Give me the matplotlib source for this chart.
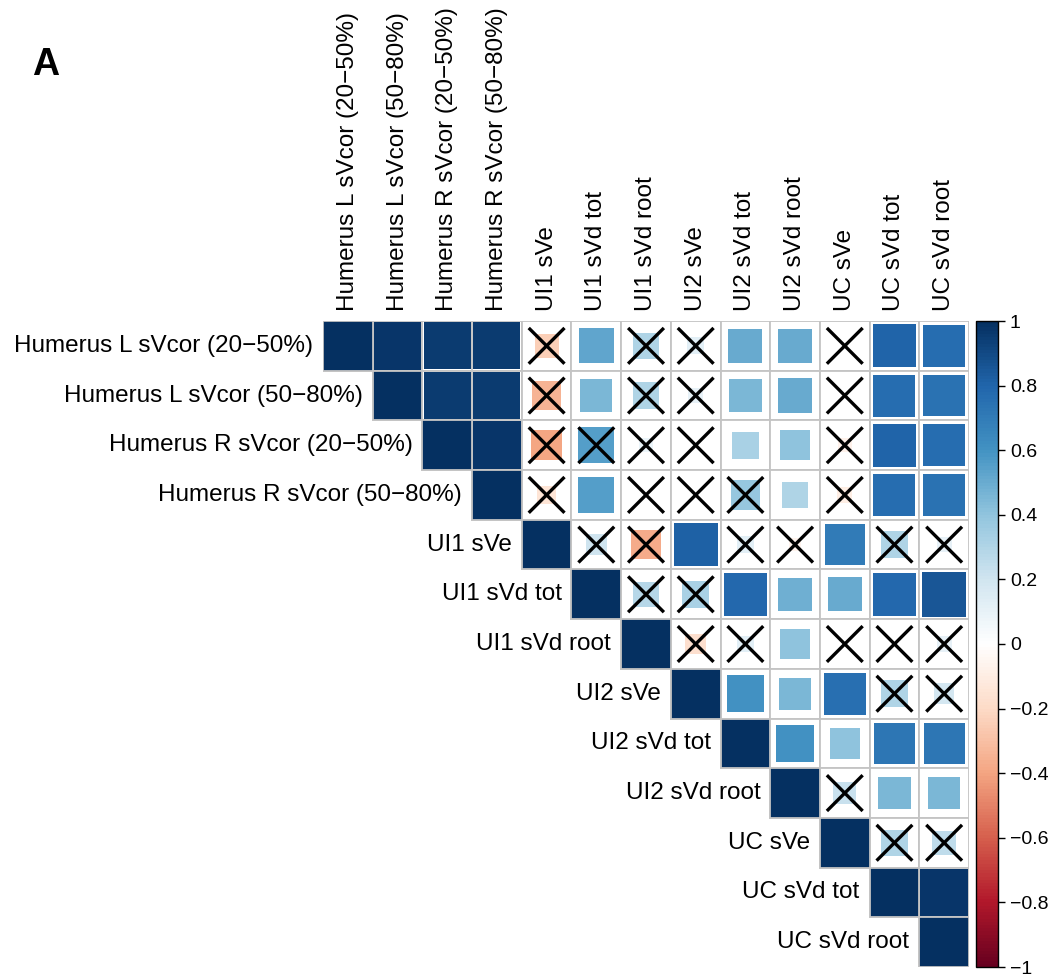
import matplotlib
matplotlib.use("Agg")
import matplotlib.pyplot as plt
import numpy as np
from matplotlib.colors import LinearSegmentedColormap, Normalize
from matplotlib.patches import Rectangle
import matplotlib.cm as cm

plt.rcParams['font.family'] = ['Liberation Sans', 'DejaVu Sans']

labels = ["Humerus L sVcor (20\u221250%)", "Humerus L sVcor (50\u221280%)",
          "Humerus R sVcor (20\u221250%)", "Humerus R sVcor (50\u221280%)",
          "UI1 sVe", "UI1 sVd tot", "UI1 sVd root",
          "UI2 sVe", "UI2 sVd tot", "UI2 sVd root",
          "UC sVe", "UC sVd tot", "UC sVd root"]

# upper triangle, row by row (starting at the diagonal)
r0 = [1.00, 0.97, 0.95, 0.95, -0.25, 0.52, 0.30, 0.12, 0.50, 0.50, 0.02, 0.80, 0.76]
r1 = [1.00, 0.95, 0.95, -0.35, 0.45, 0.30, 0.10, 0.45, 0.50, 0.00, 0.76, 0.74]
r2 = [1.00, 0.97, -0.40, 0.55, 0.08, 0.02, 0.32, 0.40, -0.08, 0.80, 0.76]
r3 = [1.00, -0.15, 0.55, 0.02, 0.00, 0.38, 0.30, -0.10, 0.76, 0.74]
r4 = [1.00, 0.20, -0.38, 0.82, 0.12, -0.07, 0.70, 0.30, 0.10]
r5 = [1.00, 0.28, 0.32, 0.78, 0.48, 0.50, 0.78, 0.85]
r6 = [1.00, -0.18, 0.12, 0.40, 0.00, 0.02, 0.10]
r7 = [1.00, 0.60, 0.45, 0.75, 0.30, 0.18]
r8 = [1.00, 0.60, 0.40, 0.72, 0.72]
r9 = [1.00, 0.22, 0.45, 0.45]
r10 = [1.00, 0.30, 0.25]
r11 = [1.00, 0.97]
r12 = [1.00]

# 1 = not significant (crossed out)
s0 = [0, 0, 0, 0, 1, 0, 1, 1, 0, 0, 1, 0, 0]
s1 = [0, 0, 0, 1, 0, 1, 1, 0, 0, 1, 0, 0]
s2 = [0, 0, 1, 1, 1, 1, 0, 0, 1, 0, 0]
s3 = [0, 1, 0, 1, 1, 1, 0, 1, 0, 0]
s4 = [0, 1, 1, 0, 1, 1, 0, 1, 1]
s5 = [0, 1, 1, 0, 0, 0, 0, 0]
s6 = [0, 1, 1, 0, 1, 1, 1]
s7 = [0, 0, 0, 0, 1, 1]
s8 = [0, 0, 0, 0, 0]
s9 = [0, 1, 0, 0]
s10 = [0, 1, 1]
s11 = [0, 0]
s12 = [0]

cbar_ticks = [-1, -0.8, -0.6, -0.4, -0.2, 0, 0.2, 0.4, 0.6, 0.8, 1]
cbar_labels = ["\u22121", "\u22120.8", "\u22120.6", "\u22120.4", "\u22120.2", "0",
               "0.2", "0.4", "0.6", "0.8", "1"]

rows = [r0, r1, r2, r3, r4, r5, r6, r7, r8, r9, r10, r11, r12]
sig = [s0, s1, s2, s3, s4, s5, s6, s7, s8, s9, s10, s11, s12]
n = len(labels)

cols = ["#67001F", "#B2182B", "#D6604D", "#F4A582", "#FDDBC7", "#FFFFFF",
        "#D1E5F0", "#92C5DE", "#4393C3", "#2166AC", "#053061"]
cmap = LinearSegmentedColormap.from_list("corr", cols, N=200)
norm = Normalize(-1, 1)

W, H = 1053, 974
fig = plt.figure(figsize=(W / 100, H / 100), dpi=100)
ax = fig.add_axes([323 / W, 7 / H, 646 / W, 646 / H])
ax.set_xlim(0, n)
ax.set_ylim(n, 0)
ax.axis('off')

for i in range(n):
    for k, r in enumerate(rows[i]):
        j = i + k
        ax.add_patch(Rectangle((j, i), 1, 1, facecolor='white',
                               edgecolor='#C4C4C4', lw=1.3, zorder=1))
        side = np.sqrt(abs(r)) * (0.97 if i != j else 1.0)
        off = (1 - side) / 2
        ax.add_patch(Rectangle((j + off, i + off), side, side,
                               facecolor=cmap(norm(r)), edgecolor='none', zorder=2))
        if sig[i][k]:
            d = 0.36
            ax.plot([j + 0.5 - d, j + 0.5 + d], [i + 0.5 - d, i + 0.5 + d],
                    color='black', lw=2.4, zorder=3, solid_capstyle='butt')
            ax.plot([j + 0.5 - d, j + 0.5 + d], [i + 0.5 + d, i + 0.5 - d],
                    color='black', lw=2.4, zorder=3, solid_capstyle='butt')
    # redraw diagonal border on top
    ax.add_patch(Rectangle((i, i), 1, 1, facecolor='none',
                           edgecolor='#C4C4C4', lw=1.3, zorder=4))

for i in range(n):
    ax.text(i - 0.2, i + 0.5, labels[i], ha='right', va='center',
            fontsize=17.5, clip_on=False)
    ax.text(i + 0.5, -0.2, labels[i], ha='center', va='bottom',
            rotation=90, fontsize=17.5, clip_on=False)

cax = fig.add_axes([976 / W, 7 / H, 22 / W, 646 / H])
sm = cm.ScalarMappable(norm=norm, cmap=cmap)
cb = fig.colorbar(sm, cax=cax, ticks=cbar_ticks)
cb.ax.set_yticklabels(cbar_labels)
cb.ax.tick_params(labelsize=14, length=5, width=1, direction='out')
cb.outline.set_linewidth(1)

fig.text(32 / W, 1 - 75 / H, "A", fontsize=27, fontweight='bold', ha='left', va='baseline')

fig.savefig("out.png", dpi=100)
